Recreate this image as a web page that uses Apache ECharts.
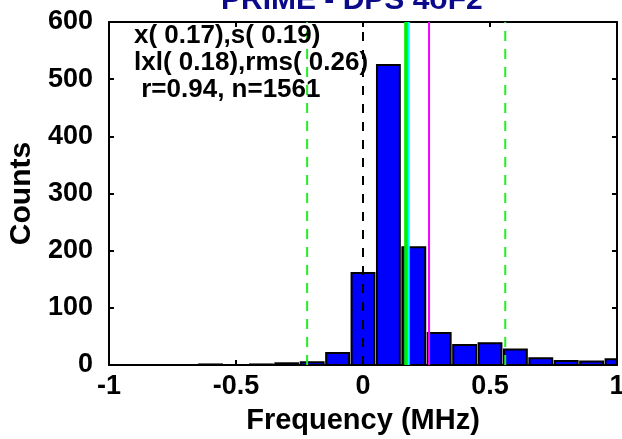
<!DOCTYPE html>
<html><head><meta charset="utf-8">
<script src="https://cdn.jsdelivr.net/npm/echarts@6/dist/echarts.min.js"></script>
<style>html,body{margin:0;padding:0;background:#fff}#c{width:622px;height:439px}</style>
</head><body><div id="c"></div>
<script>
const binCenters = [-1.0,-0.9,-0.8,-0.7,-0.6,-0.5,-0.4,-0.3,-0.2,-0.1,0.0,0.1,0.2,0.3,0.4,0.5,0.6,0.7,0.8,0.9,1.0];
const counts     = [0,0,0,0,1,0,1,3,5,21,161,525,206,56,35,38,27,12,7,6,10];
const binWidth = 0.1;
const xTicks = [-1,-0.5,0,0.5,1];
const yTicks = [0,100,200,300,400,500,600];
const titleText = 'PRIME - DPS 4oF2';
const statsLines = ['x( 0.17),s( 0.19)', 'lxl( 0.18),rms( 0.26)', ' r=0.94, n=1561'];
const zeroLine = 0;
const meanLine = 0.17;
const absMeanLine = 0.18;
const rmsLine = 0.26;
const spreadLines = [-0.22, 0.56];

const chart = echarts.init(document.getElementById('c'), null, {renderer:'canvas'});
const FONT = 'Liberation Sans, Arial, sans-serif';
const barData = binCenters.map((c,i)=>[c, counts[i]]);
function vline(x, color, width, type){
  return {type:'line', data:[[x,0],[x,600]], symbol:'none', silent:true, z:5,
    lineStyle:{color:color, width:width, type:type}, animation:false};
}
const axLine = {show:true, onZero:false, lineStyle:{color:'#000', width:2}};
const axTick = {show:true, inside:true, length:5, lineStyle:{color:'#000', width:2}};
const option = {
  animation:false,
  title:{text:titleText, left:216, top:-19, textStyle:{fontFamily:FONT, fontSize:30, fontWeight:'bold', color:'#0a0a8a'}},
  grid:{left:109, right:5, top:22, bottom:74, containLabel:false, outerBoundsMode:'none'},
  xAxis:[{type:'value', min:-1, max:1, interval:0.5,
    name:'Frequency (MHz)', nameLocation:'middle', nameGap:41,
    nameTextStyle:{fontFamily:FONT, fontSize:29, fontWeight:'bold', color:'#000'},
    axisLine:axLine, axisTick:axTick,
    axisLabel:{fontFamily:FONT, fontSize:27, fontWeight:'bold', color:'#000', margin:8,
      formatter:v=>xTicks.indexOf(v)>=0? String(v):''},
    splitLine:{show:false}},
   {type:'value', min:-1, max:1, interval:0.5, position:'top',
    axisLine:axLine, axisTick:axTick,
    axisLabel:{show:false}, splitLine:{show:false}}],
  yAxis:[{type:'value', min:0, max:600, interval:100,
    name:'Counts', nameLocation:'middle', nameGap:72,
    nameTextStyle:{fontFamily:FONT, fontSize:30, fontWeight:'bold', color:'#000'},
    axisLine:axLine, axisTick:axTick,
    axisLabel:{fontFamily:FONT, fontSize:27, fontWeight:'bold', color:'#000', margin:16},
    splitLine:{show:false}},
   {type:'value', min:0, max:600, interval:100, position:'right',
    axisLine:axLine, axisTick:axTick,
    axisLabel:{show:false}, splitLine:{show:false}}],
  graphic:[{type:'text', left:134, top:22, z:10,
    style:{text:statsLines.join('\n'), font:'bold 26px '+FONT, fill:'#000', lineHeight:27}}],
  series:[
    {type:'custom', z:2, clip:true, data:barData,
     renderItem:function(params, api){
       const c = api.value(0), v = api.value(1);
       const p0 = api.coord([c - binWidth*0.45, v]);
       const p1 = api.coord([c + binWidth*0.45, 0]);
       const rect = echarts.graphic.clipRectByRect(
         {x:p0[0], y:p0[1], width:p1[0]-p0[0], height:p1[1]-p0[1]},
         {x:params.coordSys.x, y:params.coordSys.y, width:params.coordSys.width, height:params.coordSys.height});
       if(!rect) return;
       return {type:'rect', shape:rect, style:{fill:'#0000ff', stroke:'#000', lineWidth:2}};
     }},
    vline(zeroLine, '#000', 2, [9,9]),
    vline(spreadLines[0], '#22ee22', 2, [10,8]),
    vline(spreadLines[1], '#22ee22', 2, [10,8]),
    vline(meanLine, '#00ee00', 4, 'solid'),
    vline(absMeanLine, '#00ffff', 2, 'solid'),
    vline(rmsLine, '#ff00ff', 2, 'solid')
  ]
};
chart.setOption(option);
</script></body></html>
